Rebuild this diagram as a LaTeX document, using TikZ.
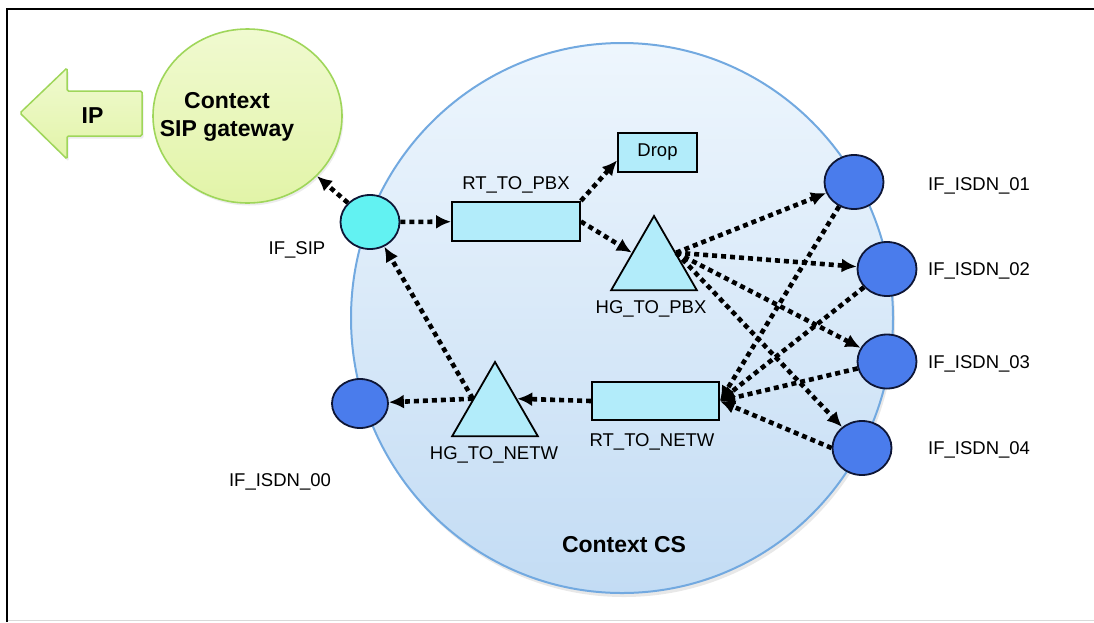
\documentclass[tikz,border=0pt]{standalone}
\usepackage{fontspec}
\setmainfont{Liberation Sans}
\usetikzlibrary{arrows.meta,shapes.geometric,shadows}

\definecolor{gwfill}{HTML}{E2F4A8}
\definecolor{gwtop}{HTML}{F0FAD0}
\definecolor{gwdraw}{HTML}{9FD65A}
\definecolor{cstop}{HTML}{EEF6FD}
\definecolor{csbot}{HTML}{C3DCF4}
\definecolor{csdraw}{HTML}{72A9E0}
\definecolor{sipfill}{HTML}{62F2F2}
\definecolor{boxfill}{HTML}{B2ECFA}
\definecolor{isdnfill}{HTML}{4A7CEC}
\definecolor{isdndraw}{HTML}{0E1636}

\begin{document}
\begin{tikzpicture}[x=1pt,y=-1pt,
  lbl/.style={font=\fontsize{18.5}{22}\selectfont, inner sep=0pt, text depth=0pt},
  boldlbl/.style={font=\fontsize{23}{28}\selectfont\bfseries, inner sep=0pt},
  ifnode/.style={ellipse, draw=isdndraw, line width=1.8pt, inner sep=0pt,
    minimum width=59pt, minimum height=54pt},
  isdn/.style={ifnode, fill=isdnfill},
  boxnode/.style={rectangle, draw=black, line width=1.8pt, fill=boxfill, inner sep=0pt},
  trinode/.style={regular polygon, regular polygon sides=3, minimum size=99pt,
    inner sep=0pt, draw=black, line width=1.8pt, fill=boxfill},
  flow/.style={line width=4.6pt, dash pattern=on 5pt off 4pt,
    -{Latex[length=15pt,width=14pt]}},
]
\useasboundingbox (0,0) rectangle (1094,622);
\fill[white] (0,0) rectangle (1094,622);

% outer frame
\draw[black!15, line width=1pt] (7,620) -- (1094,620);
\draw[line width=2.6pt] (7,622) -- (7,9) -- (1094,9);

% context CS
\node[ellipse, draw=csdraw, line width=2pt, top color=cstop, bottom color=csbot,
  minimum width=542pt, minimum height=550pt, inner sep=0pt,
  drop shadow={shadow xshift=2pt, shadow yshift=-4pt, opacity=0.18}] (cs) at (622,318) {};
\node[boldlbl] (cslbl) at (624,545) {Context CS};

% context SIP gateway
\node[ellipse, draw=gwdraw, line width=1.6pt, top color=gwtop, bottom color=gwfill,
  minimum width=189pt, minimum height=174pt, inner sep=0pt,
  drop shadow={shadow xshift=1.5pt, shadow yshift=-2.5pt, opacity=0.15}] (gw) at (247.5,116) {};
\node[boldlbl, align=center] (gwlbl) at (227,116.5) {Context\\SIP gateway};

% IP block arrow
\draw[draw=gwdraw, line width=1.5pt, top color=gwtop, bottom color=gwfill,
  rounded corners=1.5pt,
  drop shadow={shadow xshift=1.5pt, shadow yshift=-2.5pt, opacity=0.15}]
  (20,113) -- (67,68) -- (67,91) -- (142,91) -- (142,136) -- (67,136) -- (67,159) -- cycle;
\node[boldlbl] (iplbl) at (92.5,116) {IP};

% interfaces
\node[ifnode, fill=sipfill] (sip) at (370,222) {};
\node[lbl] (siplbl) at (297,248) {IF\_SIP};
\node[isdn, minimum width=56pt, minimum height=49pt] (i0) at (360,403.5) {};
\node[lbl] (i0lbl) at (280,480) {IF\_ISDN\_00};
\node[isdn] (i1) at (854,182) {};
\node[isdn] (i2) at (887,269) {};
\node[isdn] (i3) at (887,361.5) {};
\node[isdn] (i4) at (862,448) {};
\node[lbl, anchor=west] (i1lbl) at (928,184) {IF\_ISDN\_01};
\node[lbl, anchor=west] (i2lbl) at (928,269) {IF\_ISDN\_02};
\node[lbl, anchor=west] (i3lbl) at (928,362) {IF\_ISDN\_03};
\node[lbl, anchor=west] (i4lbl) at (928,448) {IF\_ISDN\_04};

% routing and handling nodes
\node[boxnode, minimum width=128pt, minimum height=39.5pt] (rtpbx) at (516,221.5) {};
\node[lbl] (rtpbxlbl) at (516,183) {RT\_TO\_PBX};
\node[boxnode, minimum width=79pt, minimum height=39pt, font=\fontsize{18.5}{22}\selectfont] (drop) at (657.5,152.5) {Drop};
\node[trinode] (hgpbx) at (654,265.5) {};
\node[lbl] (hgpbxlbl) at (651,307) {HG\_TO\_PBX};
\node[boxnode, minimum width=127pt, minimum height=38pt] (rtnetw) at (655.5,401) {};
\node[lbl] (rtnetwlbl) at (652,440) {RT\_TO\_NETW};
\node[trinode] (hgnetw) at (495,411.5) {};
\node[lbl] (hgnetwlbl) at (494,453) {HG\_TO\_NETW};

% outgoing flow (towards PBX)
\draw[flow] (sip) -- (gw);
\draw[flow] (sip) -- (rtpbx);
\draw[flow] (rtpbx.north east) -- (drop.191);
\draw[flow] (rtpbx.east) -- (hgpbx.side 1);
\draw[flow] (hgpbx.side 3) -- (i1);
\draw[flow] (hgpbx.side 3) -- (i2);
\draw[flow] (hgpbx.side 3) -- (i3);
\draw[flow] (hgpbx.side 3) -- (i4);

% incoming flow (towards network)
\draw[flow] (i1) -- (rtnetw.east);
\draw[flow] (i2) -- (rtnetw.east);
\draw[flow] (i3) -- (rtnetw.east);
\draw[flow] (i4.west) -- (rtnetw.east);
\draw[flow] (rtnetw.west) -- (hgnetw.side 3);
\draw[flow] (hgnetw.side 1) -- (i0);
\draw[flow] (hgnetw.side 1) -- (sip);
\end{tikzpicture}
\end{document}
